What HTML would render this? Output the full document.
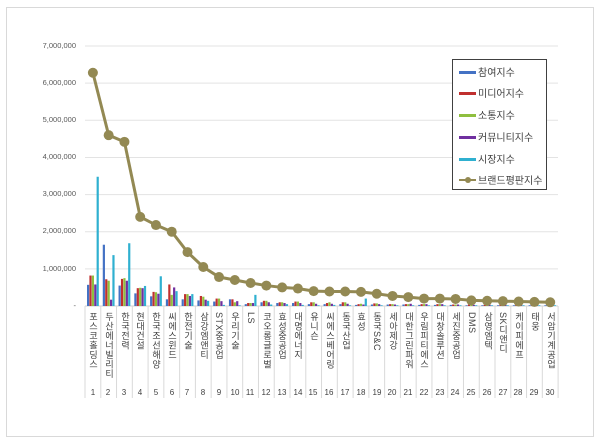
<!DOCTYPE html>
<html><head><meta charset="utf-8"><style>
body{margin:0;background:#fff;width:600px;height:444px;overflow:hidden;position:relative;font-family:"Liberation Sans","Noto Sans CJK KR",sans-serif}
#frame{position:absolute;left:6px;top:7px;width:586px;height:428px;border:1px solid #d9d9d9}
.yl{position:absolute;left:20px;width:56px;text-align:right;font-size:7.5px;color:#595959}
.cl{position:absolute;top:312px;width:15px;writing-mode:vertical-rl;font-size:9px;color:#404040;line-height:15px;letter-spacing:0.5px}
.cn{position:absolute;top:388px;width:16px;text-align:center;font-size:8px;color:#404040}
#leg{position:absolute;left:452px;top:59px;width:93px;height:129px;border:1px solid #404040;background:#fff;font-size:10px;color:#404040}
#leg div{position:absolute;left:25px;}
#leg span{position:absolute;left:6px;width:17px;height:3px}
</style></head><body>
<div id="frame"></div>
<svg id="s" width="600" height="444" style="position:absolute;left:0;top:0"></svg>
<div class="yl" style="top:41px">7,000,000</div>
<div class="yl" style="top:78px">6,000,000</div>
<div class="yl" style="top:115px">5,000,000</div>
<div class="yl" style="top:152px">4,000,000</div>
<div class="yl" style="top:189px">3,000,000</div>
<div class="yl" style="top:226px">2,000,000</div>
<div class="yl" style="top:264px">1,000,000</div>
<div class="yl" style="top:301px">-</div>
<div id="labels">
<div class="cl" style="left:85px">포스코홀딩스</div>
<div class="cl" style="left:101px">두산에너빌리티</div>
<div class="cl" style="left:117px">한국전력</div>
<div class="cl" style="left:132px">현대건설</div>
<div class="cl" style="left:148px">한국조선해양</div>
<div class="cl" style="left:164px">씨에스윈드</div>
<div class="cl" style="left:180px">한전기술</div>
<div class="cl" style="left:196px">삼강엠앤티</div>
<div class="cl" style="left:211px">STX중공업</div>
<div class="cl" style="left:227px">우리기술</div>
<div class="cl" style="left:243px">LS</div>
<div class="cl" style="left:259px">코오롱글로벌</div>
<div class="cl" style="left:274px">효성중공업</div>
<div class="cl" style="left:290px">대명에너지</div>
<div class="cl" style="left:306px">유니슨</div>
<div class="cl" style="left:322px">씨에스베어링</div>
<div class="cl" style="left:338px">동국산업</div>
<div class="cl" style="left:353px">효성</div>
<div class="cl" style="left:369px">동국S&amp;C</div>
<div class="cl" style="left:385px">세아제강</div>
<div class="cl" style="left:401px">대한그린파워</div>
<div class="cl" style="left:416px">우림피티에스</div>
<div class="cl" style="left:432px">대창솔루션</div>
<div class="cl" style="left:448px">세진중공업</div>
<div class="cl" style="left:464px">DMS</div>
<div class="cl" style="left:480px">삼영엠텍</div>
<div class="cl" style="left:495px">SK디앤디</div>
<div class="cl" style="left:511px">케이피에프</div>
<div class="cl" style="left:527px">태웅</div>
<div class="cl" style="left:543px">서암기계공업</div>
</div>
<div class="cn" style="left:85px">1</div><div class="cn" style="left:100px">2</div><div class="cn" style="left:116px">3</div><div class="cn" style="left:132px">4</div><div class="cn" style="left:148px">5</div><div class="cn" style="left:164px">6</div><div class="cn" style="left:179px">7</div><div class="cn" style="left:195px">8</div><div class="cn" style="left:211px">9</div><div class="cn" style="left:227px">10</div><div class="cn" style="left:242px">11</div><div class="cn" style="left:258px">12</div><div class="cn" style="left:274px">13</div><div class="cn" style="left:290px">14</div><div class="cn" style="left:305px">15</div><div class="cn" style="left:321px">16</div><div class="cn" style="left:337px">17</div><div class="cn" style="left:353px">18</div><div class="cn" style="left:369px">19</div><div class="cn" style="left:384px">20</div><div class="cn" style="left:400px">21</div><div class="cn" style="left:416px">22</div><div class="cn" style="left:432px">23</div><div class="cn" style="left:447px">24</div><div class="cn" style="left:463px">25</div><div class="cn" style="left:479px">26</div><div class="cn" style="left:495px">27</div><div class="cn" style="left:510px">28</div><div class="cn" style="left:526px">29</div><div class="cn" style="left:542px">30</div>
<div id="leg">
<span style="top:11px;background:#4472c4"></span><div style="top:4px">참여지수</div>
<span style="top:32px;background:#c0302f"></span><div style="top:25px">미디어지수</div>
<span style="top:54px;background:#8fbf3f"></span><div style="top:47px">소통지수</div>
<span style="top:76px;background:#7030a0"></span><div style="top:69px">커뮤니티지수</div>
<span style="top:98px;background:#2fb0d0"></span><div style="top:91px">시장지수</div>
<span style="top:119px;background:#938953;height:2px"></span><span style="top:117px;left:12px;width:6px;height:6px;border-radius:3px;background:#938953"></span><div style="top:112px">브랜드평판지수</div>
</div>
<script>
var s=document.getElementById('s'),h='';
var y0=306,k=37.14,x0=85,w=15.77;
for(var i=1;i<=7;i++){var y=y0-i*k;h+='<line x1="85" x2="558" y1="'+y+'" y2="'+y+'" stroke="#e3e3e3" stroke-width="1"/>';}
h+='<line x1="85" x2="558" y1="'+y0+'" y2="'+y0+'" stroke="#d0d0d0"/>';
for(var i=0;i<=30;i++){var x=x0+i*w;h+='<line x1="'+x+'" x2="'+x+'" y1="306" y2="398" stroke="#d9d9d9"/>';}
var B=[[.57,.82,.82,.58,3.48],[1.65,.72,.68,.17,1.37],[.55,.73,.75,.68,1.69],[.34,.48,.49,.48,.54],[.26,.38,.37,.33,.8],[.18,.58,.3,.5,.4],[.18,.32,.32,.27,.32],[.15,.27,.25,.17,.14],[.12,.2,.2,.13,.03],[.18,.18,.1,.13,.02],[.05,.08,.08,.08,.3],[.1,.14,.14,.1,.04],[.08,.1,.1,.08,.05],[.08,.12,.12,.08,.03],[.05,.1,.1,.06,.02],[.05,.08,.1,.06,.03],[.05,.1,.1,.06,.02],[.03,.05,.06,.04,.2],[.04,.07,.07,.05,.02],[.04,.05,.05,.04,.02],[.04,.05,.05,.06,.02],[.03,.05,.05,.05,.02],[.03,.05,.05,.05,.02],[.03,.04,.04,.04,.02],[.02,.04,.04,.03,.02],[.02,.03,.03,.03,.02],[.02,.03,.03,.03,.02],[.02,.03,.03,.02,.02],[.02,.03,.03,.02,.02],[.02,.03,.03,.02,.02]];
var C=['#4472c4','#c0302f','#8fbf3f','#7030a0','#2fb0d0'];
B.forEach(function(b,i){for(var j=0;j<5;j++){var hh=b[j]*k,x=x0+i*w+2+j*2.4;h+='<rect x="'+x+'" y="'+(y0-hh)+'" width="2.2" height="'+hh+'" fill="'+C[j]+'"/>';}});
var L=[6.28,4.6,4.42,2.4,2.18,2.0,1.45,1.05,.78,.7,.62,.55,.5,.47,.4,.39,.39,.38,.33,.27,.24,.2,.2,.19,.15,.14,.13,.12,.11,.1];
var p=L.map(function(v,i){return (x0+(i+.5)*w)+','+(y0-v*k)}).join(' ');
h+='<polyline points="'+p+'" fill="none" stroke="#938953" stroke-width="3"/>';
L.forEach(function(v,i){h+='<circle cx="'+(x0+(i+.5)*w)+'" cy="'+(y0-v*k)+'" r="5" fill="#938953"/>';});
s.innerHTML=h;
</script>
</body></html>
